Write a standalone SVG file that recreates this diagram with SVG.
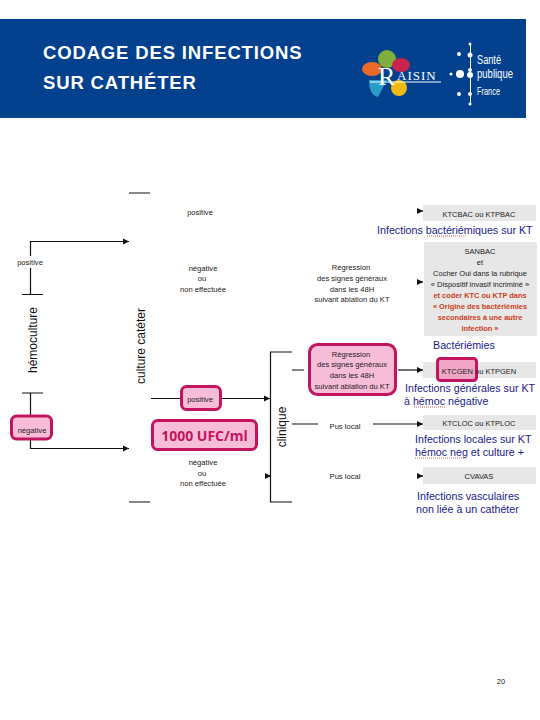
<svg xmlns="http://www.w3.org/2000/svg" width="540" height="720" viewBox="0 0 540 720">
<style>
text{font-family:"Liberation Sans",Arial,sans-serif}
.t{font-size:7.600px;fill:#222;text-anchor:middle}
.b{font-size:10.700px;fill:#1a1a8e}
.k{font-size:7.500px;fill:#222;text-anchor:middle}
.o{font-size:7.400px;fill:#c8401c;font-weight:bold;text-anchor:middle}
.r{font-size:12px;fill:#111;text-anchor:middle}
.l{fill:none;stroke:#111;stroke-width:1.2}
.g{fill:#e7e7e7}
.p{fill:#f7bcd8;stroke:#c2145f;stroke-width:3}
.h{font-size:18.500px;fill:#fff;font-weight:bold;letter-spacing:.85px}
.sq{stroke:#c04040;stroke-width:.8;stroke-dasharray:1 1;fill:none}
.s{fill:#fff;font-family:"Liberation Sans Narrow","Liberation Sans",sans-serif}
</style>
<defs><marker id="a" markerWidth="6" markerHeight="6" refX="5" refY="3" orient="auto"><path d="M0,.5L5,3L0,5.500z" fill="#111"/></marker></defs>
<g id="header">
<rect x="0" y="19" width="526" height="99" fill="#03418f"/>
<text class="h" x="43" y="59">CODAGE DES INFECTIONS</text>
<text class="h" x="43" y="89">SUR CATHÉTER</text>
</g>
<g id="logo-raisin">
<ellipse cx="387" cy="59" rx="9" ry="9" fill="#7fae3a"/>
<ellipse cx="372" cy="69" rx="10" ry="7" fill="#ea6a2a"/>
<ellipse cx="401" cy="65" rx="9" ry="7" fill="#c8244c"/>
<path d="M369,80H387L378,97Q369,95 369,80z" fill="#2a9cc8"/>
<ellipse cx="399" cy="88" rx="8" ry="8" fill="#f2b90f"/>
<text x="378" y="85" font-size="26" fill="#fff" style="font-family:'Liberation Serif',serif">R</text>
<text x="397" y="80" font-size="13" fill="#fff" letter-spacing="1" style="font-family:'Liberation Serif',serif">AISIN</text>
<line x1="370" y1="82" x2="441" y2="82" stroke="#fff" stroke-width="1"/>
</g>
<g id="logo-spf" fill="#fff">
<circle cx="470" cy="70" r="2"/><circle cx="470" cy="75" r="3"/><circle cx="470" cy="55" r="2.500"/>
<circle cx="459" cy="54" r="2"/><circle cx="460" cy="74" r="4"/><circle cx="451" cy="74" r="1.500"/><circle cx="470" cy="94" r="2"/><circle cx="459" cy="94" r="2"/><circle cx="470" cy="44" r="1.500"/><circle cx="470" cy="104" r="1.500"/>
<rect x="470" y="44" width="1" height="60"/>
<text class="s" x="477" y="64" font-size="12" textLength="24" lengthAdjust="spacingAndGlyphs">Santé</text>
<text class="s" x="477" y="78" font-size="12" textLength="36" lengthAdjust="spacingAndGlyphs">publique</text>
<text class="s" x="477" y="95" font-size="11" textLength="23" lengthAdjust="spacingAndGlyphs">France</text>
</g>
<g id="connectors">
<path class="l" d="M129,193H150M129,502H150M22,294.500H43M22,393H43"/>
<path class="l" d="M30.500,294.500V268M30.500,256V241.500H129" marker-end="url(#a)"/>
<path class="l" d="M30.500,393V448.500H129" marker-end="url(#a)"/>
<path class="l" d="M151,398.500H181M221,398.500H270" marker-end="url(#a)"/>
<path class="l" d="M292,352H270.500V502H292"/>
<path class="l" d="M292,370H304M292,424H318"/>
<path class="l" d="M398,370H423" marker-end="url(#a)"/>
<path class="l" d="M373,424H423" marker-end="url(#a)"/>
<path class="l" d="M418,211H423" marker-end="url(#a)"/>
<path class="l" d="M418,282H423" marker-end="url(#a)"/>
<path class="l" d="M418,476H423" marker-end="url(#a)"/>
<path class="l" d="M265,476H271" marker-end="url(#a)"/>
</g>
<g id="hemoculture"><text class="r" transform="translate(37,340) rotate(-90)">hémoculture</text></g>
<g id="culture-catheter"><text class="r" transform="translate(145,346) rotate(-90)">culture catéter</text></g>
<g id="clinique"><text class="r" transform="translate(286,427) rotate(-90)">clinique</text></g>
<g id="hemo-positive"><text class="t" x="30" y="265">positive</text></g>
<g id="hemo-negative"><rect class="p" x="11.500" y="416" width="40" height="23" rx="5"/><text class="t" x="32" y="433">négative</text></g>
<g id="cult-positive-top"><text class="t" x="200" y="215">positive</text></g>
<g id="cult-negative-top"><text class="t" x="203" y="271">négative</text><text class="t" x="202" y="281">ou</text><text class="t" x="203" y="292">non effectuée</text></g>
<g id="cult-positive"><rect class="p" x="181.500" y="386.500" width="39" height="23" rx="5"/><text class="t" x="200" y="402">positive</text></g>
<g id="ufc"><rect class="p" x="152.500" y="420.500" width="104" height="29" rx="5"/><text x="204.500" y="441" font-size="14" font-weight="bold" fill="#c2145f" text-anchor="middle" style="font-family:'Open Sans',sans-serif">1000 UFC/ml</text></g>
<g id="cult-negative-bottom"><text class="t" x="203" y="465">négative</text><text class="t" x="202" y="476">ou</text><text class="t" x="203" y="486">non effectuée</text></g>
<g id="regression-top"><text class="t" x="351" y="270">Régression</text><text class="t" x="352" y="281">des signes généraux</text><text class="t" x="352" y="292">dans les 48H</text><text class="t" x="352" y="302">suivant ablation du KT</text></g>
<g id="regression-box"><rect class="p" x="309.500" y="344.500" width="86" height="50" rx="8"/><text class="t" x="351" y="357">Régression</text><text class="t" x="352" y="367">des signes généraux</text><text class="t" x="352" y="378">dans les 48H</text><text class="t" x="352" y="389">suivant ablation du KT</text></g>
<g id="pus1"><text class="t" x="345" y="429">Pus local</text></g>
<g id="pus2"><text class="t" x="345" y="479">Pus local</text></g>
<g id="ktcbac"><rect class="g" x="423" y="205" width="113" height="16"/><text class="k" x="479" y="217">KTCBAC ou KTPBAC</text></g>
<g id="sanbac"><rect class="g" x="424" y="242" width="113" height="94"/>
<text class="k" x="480" y="254">SANBAC</text><text class="k" x="480" y="265">et</text><text class="k" x="480" y="276">Cocher Oui dans la rubrique</text><text class="k" x="480" y="287">« Dispositif invasif incriminé »</text>
<text class="o" x="480" y="298">et coder KTC ou KTP dans</text><text class="o" x="480" y="309">« Origine des bactériémies</text><text class="o" x="480" y="320">secondaires à une autre</text><text class="o" x="480" y="331">infection »</text></g>
<g id="ktcgen"><rect class="g" x="423" y="362" width="113" height="16"/><rect x="437.500" y="358.500" width="39" height="22" rx="3" fill="#f2a6c6" stroke="#c2145f" stroke-width="3"/><text class="k" x="479" y="374">KTCGEN ou KTPGEN</text></g>
<g id="ktcloc"><rect class="g" x="423" y="415" width="113" height="15"/><text class="k" x="479" y="426">KTCLOC ou KTPLOC</text></g>
<g id="cvavas"><rect class="g" x="423" y="467" width="113" height="17"/><text class="k" x="479" y="479">CVAVAS</text></g>
<g id="labels">
<text class="b" x="377" y="234">Infections bactériémiques sur KT</text>
<text class="b" x="433" y="349" font-size="11">Bactériémies</text>
<text class="b" x="405" y="392">Infections générales sur KT</text>
<text class="b" x="404" y="405">à hémoc négative</text>
<text class="b" x="415" y="443">Infections locales sur KT</text>
<text class="b" x="415" y="456">hémoc neg et culture +</text>
<text class="b" x="417" y="500">Infections vasculaires</text>
<text class="b" x="416" y="513">non liée à un cathéter</text>
<path class="sq" d="M427,236H467M414,407H446M415,458H467"/>
</g>
<g id="page"><text x="501" y="684" font-size="7.500" fill="#222" text-anchor="middle">20</text></g>
</svg>
